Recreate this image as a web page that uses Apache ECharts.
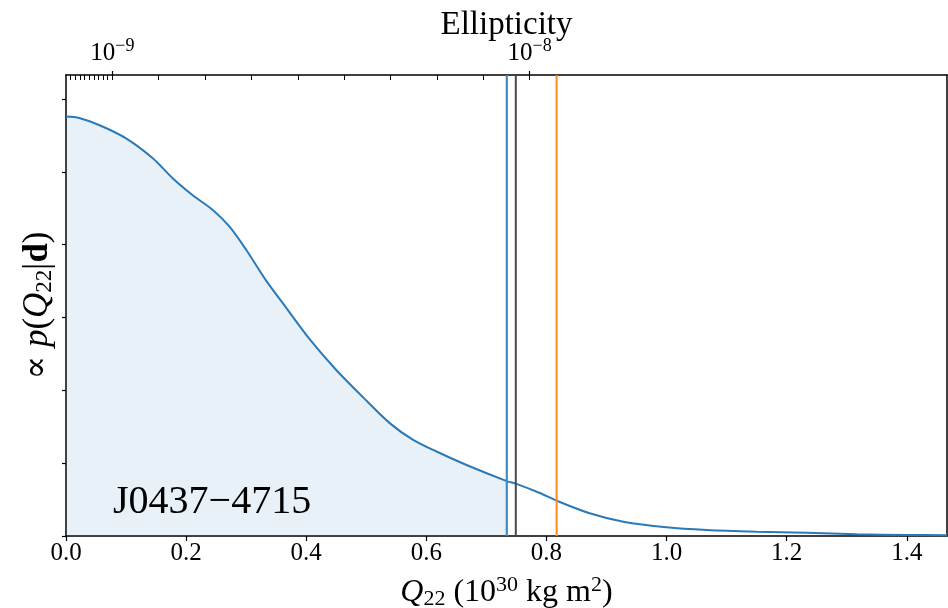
<!DOCTYPE html>
<html>
<head>
<meta charset="utf-8">
<script src="https://cdn.jsdelivr.net/npm/echarts@6/dist/echarts.min.js"></script>
<style>html,body{margin:0;padding:0;background:#fff;}#c{width:948px;height:608px;}</style>
</head>
<body>
<div id="c"></div>
<script>
// ---- data ----
const qValues = [0, 0.022, 0.056, 0.100, 0.144, 0.178, 0.211, 0.244, 0.272, 0.300, 0.333, 0.367, 0.406, 0.450, 0.494, 0.539, 0.578, 0.617, 0.667, 0.734, 0.750, 0.789, 0.817, 0.872, 0.928, 1.000, 1.067, 1.150, 1.233, 1.317, 1.400, 1.467];
const density = [5.76, 5.74, 5.64, 5.46, 5.19, 4.91, 4.68, 4.48, 4.25, 3.93, 3.51, 3.13, 2.70, 2.28, 1.91, 1.55, 1.32, 1.16, 0.975, 0.754, 0.715, 0.59, 0.485, 0.312, 0.196, 0.119, 0.082, 0.059, 0.045, 0.023, 0.014, 0.010];
const blueLineQ = 0.734;
const grayLineQ = 0.749;
const orangeLineQ = 0.817;
const xTicks = [0, 0.2, 0.4, 0.6, 0.8, 1.0, 1.2, 1.4];
const yTicks = [0, 1, 2, 3, 4, 5, 6];
const qAt1e8 = 0.772; // Q22 value that corresponds to ellipticity 1e-8
const topMajorTicks = [1e-9, 1e-8];
const topMajorLabels = ['{n|10}{sup|−9}', '{n|10}{sup|−8}'];
const topMinorTicks = [1e-10, 2e-10, 3e-10, 4e-10, 5e-10, 6e-10, 7e-10, 8e-10, 9e-10, 2e-9, 3e-9, 4e-9, 5e-9, 6e-9, 7e-9, 8e-9, 9e-9];
const xMax = 1.467;
const yMax = 6.33;
const pulsarLabel = 'J0437−4715';

// ---- chart ----
const FONT = "'Liberation Serif', 'DejaVu Serif', serif";
const epsMax = xMax / qAt1e8 * 1e-8;
const curve = qValues.map((q, i) => [q, density[i]]);
const fill = curve.filter(p => p[0] <= blueLineQ + 1e-9);

function vline(q, color, w) {
  return {
    type: 'line', xAxisIndex: 0, yAxisIndex: 0, data: [[q, 0], [q, yMax]],
    showSymbol: false, symbol: 'none', silent: true, z: 5,
    lineStyle: { color: color, width: w }
  };
}

const gridBox = { left: 66, right: 1, top: 75, bottom: 72, containLabel: false, outerBoundsMode: 'none' };

const chart = echarts.init(document.getElementById('c'), null, { renderer: 'canvas' });
chart.setOption({
  animation: false,
  backgroundColor: '#fff',
  title: {
    text: pulsarLabel, left: 108, top: 477,
    textStyle: { fontFamily: FONT, fontSize: 40, fontWeight: 'normal', color: '#000' }
  },
  grid: [Object.assign({}, gridBox), Object.assign({}, gridBox)],
  xAxis: [
    {
      type: 'value', gridIndex: 0, position: 'bottom', min: 0, max: xMax,
      axisLine: { show: true, onZero: false, lineStyle: { color: '#000', width: 1.5 } },
      axisTick: { show: true, length: 5, customValues: xTicks, lineStyle: { color: '#000', width: 1.2 } },
      axisLabel: { customValues: xTicks, formatter: v => v.toFixed(1), margin: 5, fontFamily: FONT, fontSize: 25, color: '#000' },
      splitLine: { show: false },
      name: '{i|Q}{sub|22}{n| (10}{sup|30}{n| kg m}{sup|2}{n|)}',
      nameLocation: 'middle', nameGap: 38,
      nameTextStyle: {
        fontFamily: FONT, color: '#000',
        rich: {
          i: { fontFamily: FONT, fontStyle: 'italic', fontSize: 32, color: '#000' },
          n: { fontFamily: FONT, fontSize: 32, color: '#000' },
          sub: { fontFamily: FONT, fontSize: 22, color: '#000', padding: [12, 0, 0, 0] },
          sup: { fontFamily: FONT, fontSize: 22, color: '#000', padding: [0, 0, 16, 0] }
        }
      }
    },
    {
      type: 'value', gridIndex: 0, position: 'top', min: 0, max: epsMax,
      axisLine: { show: true, onZero: false, lineStyle: { color: '#000', width: 1.5 } },
      axisTick: { show: true, length: 4, customValues: topMajorTicks, lineStyle: { color: '#000', width: 1.2 } },
      axisLabel: {
        customValues: topMajorTicks, margin: 6,
        formatter: v => topMajorLabels[topMajorTicks.findIndex(t => Math.abs(t - v) < 1e-12)] || '',
        rich: {
          n: { fontFamily: FONT, fontSize: 25, color: '#000' },
          sup: { fontFamily: FONT, fontSize: 18, color: '#000', padding: [0, 0, 14, 0] }
        }
      },
      splitLine: { show: false },
      name: 'Ellipticity', nameLocation: 'middle', nameGap: 33, nameMoveOverlap: false,
      nameTextStyle: { fontFamily: FONT, fontSize: 33, color: '#000' }
    },
    {
      type: 'value', gridIndex: 1, position: 'top', min: 0, max: epsMax,
      axisLine: { show: false, onZero: false },
      axisTick: { show: true, inside: true, length: 5, customValues: topMinorTicks.concat(topMajorTicks), lineStyle: { color: '#000', width: 1 } },
      axisLabel: { show: false },
      splitLine: { show: false }
    }
  ],
  yAxis: [
    {
      type: 'value', gridIndex: 0, min: 0, max: yMax, position: 'left',
      axisLine: { show: true, onZero: false, lineStyle: { color: '#000', width: 1.5 } },
      axisTick: { show: true, length: 4, customValues: yTicks, lineStyle: { color: '#000', width: 1.2 } },
      axisLabel: { show: false },
      splitLine: { show: false },
      name: '{n|∝ }{i|p}{n|(}{i|Q}{sub|22}{n||}{b|d}{n|)}',
      nameLocation: 'middle', nameGap: 10, nameRotate: 90,
      nameTextStyle: {
        fontFamily: FONT, color: '#000',
        rich: {
          i: { fontFamily: FONT, fontStyle: 'italic', fontSize: 35, color: '#000' },
          n: { fontFamily: FONT, fontSize: 35, color: '#000' },
          b: { fontFamily: FONT, fontWeight: 'bold', fontSize: 35, color: '#000' },
          sub: { fontFamily: FONT, fontSize: 23, color: '#000', padding: [14, 0, 0, 0] }
        }
      }
    },
    {
      type: 'value', gridIndex: 0, min: 0, max: yMax, position: 'right',
      axisLine: { show: true, onZero: false, lineStyle: { color: '#000', width: 1.5 } },
      axisTick: { show: false }, axisLabel: { show: false }, splitLine: { show: false }
    },
    {
      type: 'value', gridIndex: 1, min: 0, max: yMax, show: false
    }
  ],
  series: [
    {
      type: 'line', data: fill, showSymbol: false, symbol: 'none', smooth: 0.3,
      lineStyle: { width: 0 }, areaStyle: { color: 'rgba(31,119,180,0.1)', opacity: 1 }, z: 1, silent: true
    },
    {
      type: 'line', data: curve, showSymbol: false, symbol: 'none', smooth: 0.3,
      lineStyle: { color: '#2a7ab9', width: 2 }, z: 3, silent: true
    },
    vline(blueLineQ, '#3f8bc6', 2.2),
    vline(grayLineQ, '#4a4a4a', 2),
    vline(orangeLineQ, '#ff8a1c', 2)
  ]
});
</script>
</body>
</html>
